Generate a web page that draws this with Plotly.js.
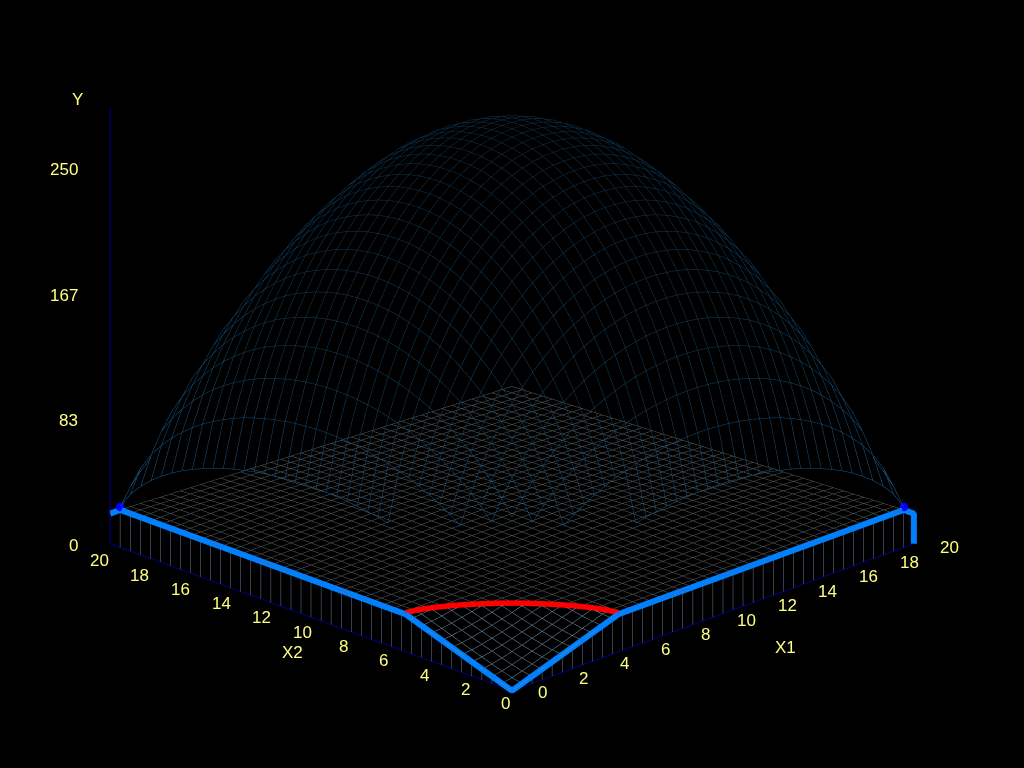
<!DOCTYPE html>
<html><head><meta charset="utf-8">
<script src="https://cdn.plot.ly/plotly-3.0.1.min.js"></script>
<style>html,body{margin:0;padding:0;background:#000;overflow:hidden}#g{width:1024px;height:768px}</style>
</head><body><div id="g"></div>
<script>
// grid positions (X1 and X2 share them)
var domeAxis=[0,0.51,1.03,1.54,2.05,2.57,3.08,3.59,4.11,4.62,5.13,5.64,6.16,6.67,7.18,7.7,8.21,8.72,9.24,9.75,10.26,10.78,11.29,11.8,12.32,12.83,13.34,13.86,14.37,14.88,15.39,15.91,16.42,16.93,17.45,17.96,18.47,18.99,19.5];
var floorAxis=[0,0.5,1,1.5,2,2.5,3,3.5,4,4.5,5,5.5,6,6.5,7,7.5,8,8.5,9,9.5,10,10.5,11,11.5,12,12.5,13,13.5,14,14.5,15,15.5,16,16.5,17,17.5,18,18.5,19,19.5];
// upper surface, one quadrant; the surface mirrors about its middle
var domeQuadrant=[
[27.7,38.8,46.9,53.3,58.8,63.5,67.6,71.1,74.2,77.0,79.4,81.5,83.3,84.8,86.1,87.1,87.9,88.5,88.8,88.9],
[38.8,54.2,65.5,74.6,82.2,88.7,94.4,99.4,103.8,107.6,111.0,114.0,116.4,118.5,120.3,121.8,122.9,123.6,124.2,124.3],
[46.9,65.5,79.2,90.1,99.3,107.2,114.2,120.2,125.4,130.1,134.1,137.7,140.7,143.3,145.4,147.2,148.5,149.4,150.0,150.2],
[53.3,74.6,90.1,102.6,113.0,122.1,130.0,136.8,142.8,148.1,152.7,156.8,160.2,163.1,165.5,167.6,169.1,170.1,170.8,171.0],
[58.8,82.2,99.3,113.0,124.5,134.5,143.2,150.7,157.3,163.2,168.2,172.8,176.5,179.7,182.4,184.6,186.3,187.5,188.2,188.4],
[63.5,88.7,107.2,122.1,134.5,145.3,154.7,162.8,169.9,176.2,181.7,186.6,190.7,194.1,197.0,199.4,201.3,202.5,203.3,203.5],
[67.6,94.4,114.2,130.0,143.2,154.7,164.6,173.3,180.9,187.6,193.4,198.6,203.0,206.6,209.7,212.3,214.2,215.5,216.4,216.6],
[71.1,99.4,120.2,136.8,150.7,162.8,173.3,182.4,190.4,197.4,203.6,209.1,213.6,217.5,220.7,223.4,225.5,226.9,227.8,228.0],
[74.2,103.8,125.4,142.8,157.3,169.9,180.9,190.4,198.7,206.1,212.5,218.2,223.0,227.1,230.4,233.2,235.4,236.8,237.8,238.0],
[77.0,107.6,130.1,148.1,163.2,176.2,187.6,197.4,206.1,213.7,220.4,226.3,231.3,235.4,238.9,241.9,244.1,245.6,246.6,246.8],
[79.4,111.0,134.1,152.7,168.2,181.7,193.4,203.6,212.5,220.4,227.3,233.4,238.5,242.8,246.4,249.4,251.7,253.2,254.2,254.5],
[81.5,114.0,137.7,156.8,172.8,186.6,198.6,209.1,218.2,226.3,233.4,239.6,244.9,249.3,252.9,256.1,258.4,260.0,261.0,261.3],
[83.3,116.4,140.7,160.2,176.5,190.7,203.0,213.6,223.0,231.3,238.5,244.9,250.2,254.7,258.5,261.7,264.1,265.7,266.7,267.0],
[84.8,118.5,143.3,163.1,179.7,194.1,206.6,217.5,227.1,235.4,242.8,249.3,254.7,259.4,263.2,266.5,268.9,270.5,271.6,271.9],
[86.1,120.3,145.4,165.5,182.4,197.0,209.7,220.7,230.4,238.9,246.4,252.9,258.5,263.2,267.0,270.4,272.9,274.5,275.6,275.9],
[87.1,121.8,147.2,167.6,184.6,199.4,212.3,223.4,233.2,241.9,249.4,256.1,261.7,266.5,270.4,273.7,276.2,277.9,279.0,279.3],
[87.9,122.9,148.5,169.1,186.3,201.3,214.2,225.5,235.4,244.1,251.7,258.4,264.1,268.9,272.9,276.2,278.8,280.5,281.6,281.9],
[88.5,123.6,149.4,170.1,187.5,202.5,215.5,226.9,236.8,245.6,253.2,260.0,265.7,270.5,274.5,277.9,280.5,282.2,283.3,283.6],
[88.8,124.2,150.0,170.8,188.2,203.3,216.4,227.8,237.8,246.6,254.2,261.0,266.7,271.6,275.6,279.0,281.6,283.3,284.4,284.7],
[88.9,124.3,150.2,171.0,188.4,203.5,216.6,228.0,238.0,246.8,254.5,261.3,267.0,271.9,275.9,279.3,281.9,283.6,284.7,285.0]];
var domeCalibration=0.977;
// lower surface near the origin (X1, X2 = 0 .. 5.5), flat at plateauHeight elsewhere
var plateauHeight=25;
var cornerHeights=[
[0,2.4,4.7,7.1,9.4,11.8,14.2,16.5,18.9,21.2,23.6,25],
[2.4,3.8,5.8,8.0,10.3,12.5,14.8,17.2,19.5,21.8,24.1,25],
[4.7,5.8,7.6,9.6,11.7,13.8,16.0,18.3,20.5,22.8,25,25],
[7.1,8.0,9.6,11.4,13.3,15.4,17.5,19.7,21.9,24.1,25,25],
[9.4,10.3,11.7,13.3,15.2,17.1,19.1,21.2,23.3,25,25,25],
[11.8,12.5,13.8,15.4,17.1,19.0,20.9,22.9,24.9,25,25,25],
[14.2,14.8,16.0,17.5,19.1,20.9,22.7,24.7,25,25,25,25],
[16.5,17.2,18.3,19.7,21.2,22.9,24.7,25,25,25,25,25],
[18.9,19.5,20.5,21.9,23.3,24.9,25,25,25,25,25,25],
[21.2,21.8,22.8,24.1,25,25,25,25,25,25,25,25],
[23.6,24.1,25,25,25,25,25,25,25,25,25,25],
[25,25,25,25,25,25,25,25,25,25,25,25]];
// apparent fall of the plateau toward the far corner, by grid steps past the X1+X2=19.5 line
var farDrop=[0,0.3,0.7,1,1.4,1.7,2,2.4,2.7,3.1,3.4,3.8,4.1,4.4,4.8,5.1,5.5,5.8,6.1,6.5,6.8,7.2,7.5,7.8,8.2,8.5,8.9,9.2,9.5,9.9,10.2,10.6,10.9,11.2,11.6,11.9,12.3,12.6,12.9,13.3];
// thick outline
var rimX1=[20,20,19.5,5.3,0,0,0,0];
var rimX2=[0,0,0,0,0,5.3,19.5,20];
var rimY=[0,20,25,25,0,25,25,20];
// red curve where the surfaces change
var arcX1=[0,0.5,1,1.5,2,2.5,3,3.3,3.6,4.01,4.39,4.71,4.98,5.19,5.3];
var arcX2=[5.3,5.19,4.98,4.71,4.39,4.01,3.6,3.3,3.0,2.5,2,1.5,1,0.5,0];
var arcY=[26,26,26,26,26,26,26,26,26,26,26,26,26,26,26];
// corner dots
var dotX1=[0,19.5], dotX2=[19.5,0], dotY=[27,27];
var tickX=[0,2,4,6,8,10,12,14,16,18,20];
var tickYVals=[0,83.33,166.67,250], tickYText=['0','83','167','250'];

function domeAt(i,j){return domeCalibration*domeQuadrant[i<20?i:38-i][j<20?j:38-j];}
function floorAt(i,j){
  if(i<12&&j<12) return cornerHeights[i][j];
  return plateauHeight-((i+j)>=39?farDrop[i+j-39]:0);
}
function lowPart(i,j){return i<12&&j<12&&cornerHeights[i][j]<25;}
function faces(i,j){ // the back of the upper surface and its foot by the origin are not shown in the picture
  if(i<12&&j<12&&domeAt(i,j)<90) return false;
  var n=domeAxis.length-1;
  var zx=domeAt(Math.min(i+1,n),j)-domeAt(Math.max(i-1,0),j);
  var zy=domeAt(i,Math.min(j+1,n))-domeAt(i,Math.max(j-1,0));
  return zx+zy>-9.8;
}
function meshLines(axis,at,dir,keep){
  var x=[],y=[],z=[];
  for(var a=0;a<axis.length;a++){
    for(var b=0;b<axis.length;b++){
      var i=dir===0?a:b, j=dir===0?b:a;
      if(keep&&!keep(i,j)){x.push(null);y.push(null);z.push(null);continue;}
      x.push(axis[i]);y.push(axis[j]);z.push(at(i,j));
    }
    x.push(null);y.push(null);z.push(null);
  }
  return {x:x,y:y,z:z};
}
function lineTrace(d,color,width){
  return {type:'scatter3d',mode:'lines',x:d.x,y:d.y,z:d.z,hoverinfo:'skip',showlegend:false,
    connectgaps:false,line:{color:color,width:width}};
}
function domeTrace(d){
  var t=lineTrace(d,d.z,1);
  t.line.cmin=27;t.line.cmax=280;t.line.showscale=false;
  t.line.colorscale=[[0,'#1a64a0'],[0.5,'#104468'],[1,'#0e324e']];
  return t;
}
function nearLow(i,j){return lowPart(i,j)||(i>0&&lowPart(i-1,j))||(j>0&&lowPart(i,j-1));}
function highPart(i,j){return !lowPart(i,j);}
// walls: verticals from the ground to the edge of the lower surface
var wall={x:[],y:[],z:[]};
floorAxis.forEach(function(v,k){
  var h=floorAt(0,k);
  wall.x.push(0,0,null);wall.y.push(v,v,null);wall.z.push(0,h,null);
  wall.x.push(v,v,null);wall.y.push(0,0,null);wall.z.push(0,h,null);
});
var ground={x:[20,0,0],y:[0,0,20],z:[0,0,0]};
var yLine={x:[0,0],y:[20,20],z:[0,290]};

var traces=[
  domeTrace(meshLines(domeAxis,domeAt,0,faces)),
  domeTrace(meshLines(domeAxis,domeAt,1,faces)),
  lineTrace(meshLines(floorAxis,floorAt,0,highPart),'#625e52',1),
  lineTrace(meshLines(floorAxis,floorAt,1,highPart),'#50606e',1),
  lineTrace(meshLines(floorAxis,floorAt,0,nearLow),'#6f90a6',1),
  lineTrace(meshLines(floorAxis,floorAt,1,nearLow),'#6f90a6',1),
  lineTrace(wall,'#6a7a9a',1),
  lineTrace(ground,'#000080',2),
  lineTrace(yLine,'#000090',2),
  lineTrace({x:rimX1,y:rimX2,z:rimY},'#0080ff',12),
  lineTrace({x:arcX1,y:arcX2,z:arcY},'#ff0000',11),
  {type:'scatter3d',mode:'markers',x:dotX1,y:dotX2,z:dotY,hoverinfo:'skip',showlegend:false,
   marker:{color:'#0000ff',size:5}}
];
var tf={family:'Liberation Sans, Arial, sans-serif',size:17,color:'#ffff80'};
function ax(range){
  return {range:range,autorange:false,showgrid:false,zeroline:false,showline:false,showbackground:false,
    showspikes:false,ticks:'',showticklabels:false,title:{text:''}};
}
function note(text,x,y,z,dx,dy,anchor){
  return {text:text,x:x,y:y,z:z,xshift:dx,yshift:dy,xanchor:anchor||'center',yanchor:'middle',showarrow:false,font:tf};
}
var notes=[];
tickX.forEach(function(v,k){
  notes.push(note(String(v),v,0,0,31+k*0.5,-2-k*0.2));
  notes.push(note(String(v),0,v,0,-6-k*0.5,-13-k*0.4));
});
tickYVals.forEach(function(v,k){notes.push(note(tickYText[k],0,20,v,-30,-2,'right'));});
notes.push(note('X1',13.6,0,0,0,-57));
notes.push(note('X2',0,10.9,0,0,-42));
notes.push(note('Y',0,20,290,-33,8));
var layout={
  width:1024,height:768,margin:{l:0,r:0,t:0,b:0},paper_bgcolor:'#000',plot_bgcolor:'#000',showlegend:false,
  scene:{domain:{x:[0,1],y:[0,1]},bgcolor:'#000',aspectmode:'manual',aspectratio:{x:1.48,y:1.48,z:1.22},
    xaxis:ax([0,20]),yaxis:ax([0,20]),zaxis:ax([0,290]),annotations:notes,
    camera:{projection:{type:'orthographic'},up:{x:0,y:0,z:1},
      center:{x:0,y:0,z:-0.163},eye:{x:-4,y:-4,z:2.06}}}
};
Plotly.newPlot('g',traces,layout,{displayModeBar:false});
</script></body></html>
